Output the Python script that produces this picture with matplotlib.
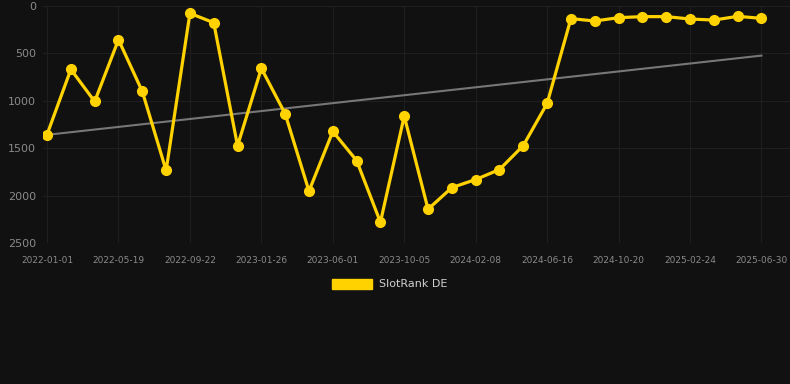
import matplotlib.pyplot as plt
from matplotlib.patches import Patch
import numpy as np

# SlotRank DE rank, one point per period (31 points)
rank = [1354, 668, 1006, 355, 900, 1733, 77, 176, 1473, 657,
        1136, 1950, 1322, 1628, 2278, 1160, 2141, 1913, 1828, 1723,
        1470, 1027, 133, 158, 123, 112, 112, 137, 148, 109, 130]
tick_labels = ['2022-01-01', '2022-05-19', '2022-09-22', '2023-01-26', '2023-06-01',
               '2023-10-05', '2024-02-08', '2024-06-16', '2024-10-20', '2025-02-24',
               '2025-06-30']
y_ticks = [0, 500, 1000, 1500, 2000, 2500]

bg = '#111111'
gold = '#FFD200'

x = np.arange(len(rank))
fit = np.polyfit(x, rank, 1)
trend = np.polyval(fit, x)

fig = plt.figure(figsize=(7.9, 3.84), dpi=100, facecolor=bg)
ax = fig.add_axes([43 / 790, 1 - 243.3 / 384, 1 - 43 / 790, (243.3 - 6) / 384])
ax.set_facecolor(bg)

ax.plot(x, trend, color='#777777', lw=1.5, zorder=2)
ax.plot(x, rank, color=gold, lw=2.3, marker='o', markersize=7, zorder=3)

ax.set_xlim(-0.17, 31.2)
ax.set_ylim(2500, 0)
ax.set_xticks(x[::3])
ax.set_xticklabels(tick_labels)
ax.set_yticks(y_ticks)

ax.grid(True, color='#1f1f1f', lw=0.8)
ax.set_axisbelow(True)
for s in ax.spines.values():
    s.set_visible(False)
ax.tick_params(axis='x', colors='#8a8a8a', labelsize=6.5, length=0, pad=9)
ax.tick_params(axis='y', colors='#8a8a8a', labelsize=8, length=0, pad=5)

fig.legend(handles=[Patch(facecolor=gold, edgecolor=gold)], labels=['SlotRank DE'],
           loc='center', bbox_to_anchor=(390 / 790, 1 - 284 / 384),
           frameon=False, fontsize=8, labelcolor='#d0d0d0',
           handlelength=3.6, handleheight=1.0, handletextpad=0.6)

plt.savefig('out.png', facecolor=bg)
